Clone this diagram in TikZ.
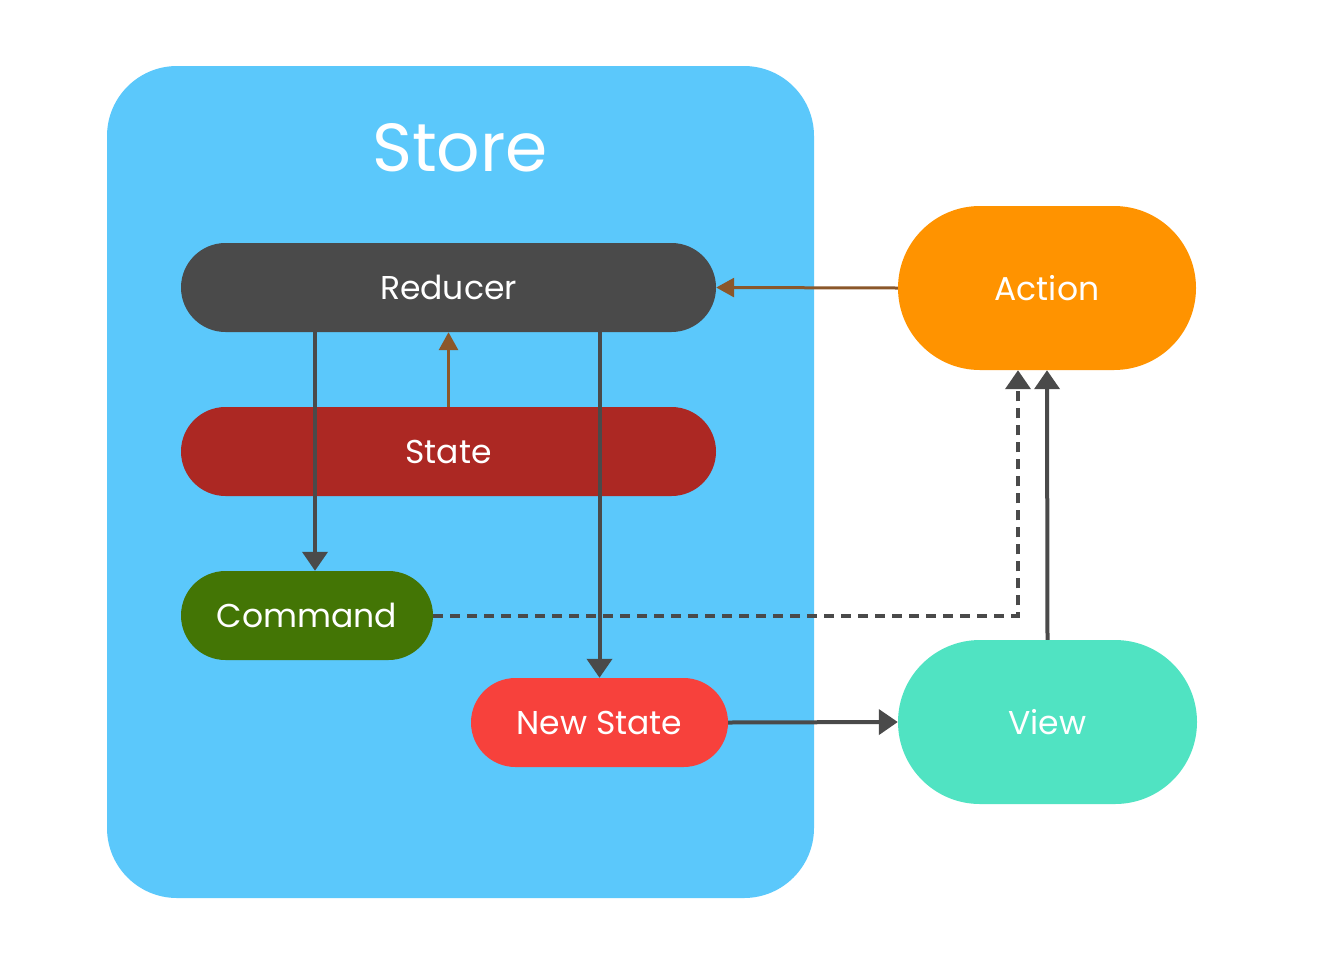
\documentclass[tikz,border=0pt]{standalone}
\usepackage{fontspec}
\setmainfont{Poppins}
\usepackage{xcolor}
\usetikzlibrary{arrows.meta, positioning, calc}

\definecolor{storeblue}{HTML}{5BC8FB}
\definecolor{reducergray}{HTML}{4A4A4A}
\definecolor{statered}{HTML}{AC2823}
\definecolor{cmdgreen}{HTML}{437505}
\definecolor{newred}{HTML}{F7413C}
\definecolor{actionorange}{HTML}{FF9300}
\definecolor{viewteal}{HTML}{50E3C2}
\definecolor{linkbrown}{HTML}{8B572A}

\begin{document}
\begin{tikzpicture}[
  x=1pt, y=-1pt,
  pill/.style={rectangle, rounded corners=44.5pt, minimum height=89pt,
    inner sep=0pt, text=white, font=\fontsize{33}{38}\selectfont},
  bigpill/.style={rectangle, rounded corners=82pt, minimum height=164pt,
    inner sep=0pt, text=white, font=\fontsize{33}{38}\selectfont},
  darrow/.style={draw=reducergray, line width=4pt,
    -{Triangle[length=19pt, width=25pt]}},
  barrow/.style={draw=linkbrown, line width=3pt,
    -{Triangle[length=18pt, width=19pt]}},
]
  \useasboundingbox (0,0) rectangle (1320,954);

  % ── Store container ──
  \fill[storeblue, rounded corners=70pt] (107,66) rectangle (814,898);
  \node[text=white, font=\fontsize{68}{76}\selectfont] (store) at (460,148) {Store};

  % ── Inside the store ──
  \node[pill, fill=reducergray, minimum width=535pt] (reducer) at (448.5,287.5) {Reducer};
  \node[pill, fill=statered, minimum width=535pt] (state) at (448.5,451.5) {State};
  \node[pill, fill=cmdgreen, minimum width=252pt] (command) at (307,615.5) {Command};
  \node[pill, fill=newred, minimum width=257pt] (newstate) at (599.5,722.5) {New State};

  % ── Outside ──
  \node[bigpill, fill=actionorange, minimum width=298pt] (action) at (1047,288) {Action};
  \node[bigpill, fill=viewteal, minimum width=299pt] (view) at (1047.5,722) {View};

  % ── Connectors ──
  \coordinate (cmdin) at ([xshift=8pt]command.north);
  \coordinate (actin) at ([xshift=-29pt]action.south);
  \draw[barrow] (action.west) -- (reducer.east);
  \draw[barrow] (state.north) -- (reducer.south);
  \draw[darrow] (reducer.south -| cmdin) -- (cmdin);
  \draw[darrow] (reducer.south -| newstate.north) -- (newstate.north);
  \draw[darrow] (newstate.east) -- (view.west);
  \draw[darrow] (view.north) -- (action.south);
  \draw[darrow, dash pattern=on 10pt off 7pt] (command.east) -| (actin);

\end{tikzpicture}
\end{document}
